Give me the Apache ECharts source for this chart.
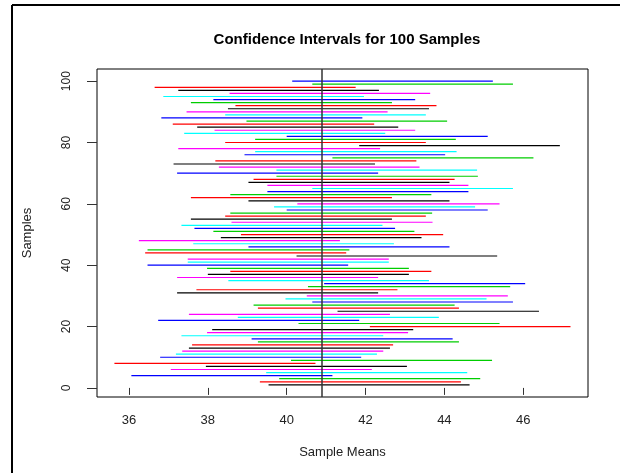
<!DOCTYPE html>
<html>
<head>
<meta charset="utf-8">
<script src="https://cdn.jsdelivr.net/npm/echarts@6/dist/echarts.min.js"></script>
<style>
  html, body { margin: 0; padding: 0; background: #fff; }
  #chart { width: 620px; height: 473px; }
</style>
</head>
<body>
<div id="chart"></div>
<script>
// lower / upper ends of the interval for samples 1..100
var lowerBounds = [
  39.54, 39.32, 39.81, 36.06, 39.48, 37.06, 37.95, 35.63, 40.11, 36.79,
  37.19, 37.35, 37.52, 37.60, 39.27, 39.11, 37.33, 37.98, 38.11, 42.11,
  40.30, 36.74, 38.76, 37.52, 41.29, 39.27, 39.16, 40.65, 39.97, 40.51,
  37.22, 37.71, 40.54, 40.95, 38.52, 37.22, 38.00, 38.57, 37.98, 36.47,
  37.49, 37.49, 40.25, 36.41, 36.47, 39.03, 37.63, 36.25, 38.33, 38.84,
  38.14, 37.66, 37.33, 38.60, 37.57, 38.44, 38.57, 40.00, 39.68, 40.27,
  39.03, 37.57, 38.57, 39.51, 40.65, 39.51, 39.03, 39.16, 39.74, 37.22,
  39.74, 38.28, 37.13, 38.19, 41.16, 38.93, 39.20, 37.25, 41.84, 38.44,
  39.20, 40.00, 37.40, 38.17, 37.73, 37.11, 38.98, 36.82, 38.44, 37.46,
  38.51, 38.70, 37.57, 38.14, 36.87, 38.55, 37.25, 36.65, 40.65, 40.14
];
var upperBounds = [
  44.64, 44.42, 44.91, 41.16, 44.58, 42.16, 43.05, 40.73, 45.21, 41.89,
  42.29, 42.45, 42.62, 42.70, 44.37, 44.21, 42.45, 43.08, 43.21, 47.20,
  45.40, 41.84, 43.86, 42.62, 46.40, 44.37, 44.26, 45.74, 45.07, 45.61,
  42.32, 42.81, 45.67, 46.05, 43.61, 42.32, 43.10, 43.67, 43.10, 41.56,
  42.59, 42.59, 45.34, 41.51, 41.59, 44.13, 42.72, 41.35, 43.42, 43.97,
  43.24, 42.75, 42.43, 43.70, 42.67, 43.53, 43.69, 45.10, 44.78, 45.40,
  44.13, 42.67, 43.67, 44.61, 45.74, 44.61, 44.13, 44.26, 44.85, 42.32,
  44.83, 43.37, 42.24, 43.29, 46.26, 44.02, 44.31, 42.37, 46.93, 43.53,
  44.29, 45.10, 42.50, 43.26, 42.83, 42.22, 44.07, 41.92, 43.53, 42.56,
  43.61, 43.80, 42.67, 43.26, 41.96, 43.64, 42.34, 41.75, 45.74, 45.23
];
var trueMean = 40.9;
var lineColors = ['#000000', '#FF0000', '#00CD00', '#0000FF', '#00FFFF', '#FF00FF'];
var xTicks = [36, 38, 40, 42, 44, 46];
var yTicks = [0, 20, 40, 60, 80, 100];

// [lower, upper, sample number]
var intervals = lowerBounds.map(function (lo, i) {
  return [lo, upperBounds[i], i + 1];
});

var chart = echarts.init(document.getElementById('chart'));
chart.setOption({
  animation: false,
  textStyle: { fontFamily: 'Liberation Sans, Arial, sans-serif' },
  title: {
    text: 'Confidence Intervals for 100 Samples',
    left: 342,
    textAlign: 'center',
    top: 27,
    textStyle: { fontSize: 15, fontWeight: 'bold', color: '#000' }
  },
  grid: {
    left: 97, right: 32, top: 69, bottom: 76,
    show: true, borderColor: '#000', borderWidth: 1, backgroundColor: 'transparent'
  },
  xAxis: {
    type: 'value',
    min: 35.188, max: 47.644,
    name: 'Sample Means',
    nameLocation: 'middle',
    nameGap: 49,
    nameTextStyle: { fontSize: 13, color: '#222' },
    axisLine: { show: false },
    splitLine: { show: false },
    axisTick: { show: true, inside: false, length: 7, customValues: xTicks, lineStyle: { color: '#333' } },
    axisLabel: { customValues: xTicks, margin: 17, fontSize: 13, color: '#222' }
  },
  yAxis: {
    type: 'value',
    min: -2.96, max: 103.96,
    name: 'Samples',
    nameLocation: 'middle',
    nameGap: 63,
    nameTextStyle: { fontSize: 13, color: '#222' },
    axisLine: { show: false },
    splitLine: { show: false },
    axisTick: { show: true, inside: false, length: 10, customValues: yTicks, lineStyle: { color: '#333' } },
    axisLabel: { customValues: yTicks, rotate: 90, margin: 24, fontSize: 12, color: '#222' }
  },
  graphic: [
    { type: 'line', shape: { x1: 12, y1: 5, x2: 620, y2: 5 }, style: { stroke: '#000', lineWidth: 2 } },
    { type: 'line', shape: { x1: 12, y1: 5, x2: 12, y2: 473 }, style: { stroke: '#000', lineWidth: 2 } }
  ],
  series: [
    {
      type: 'custom',
      silent: true,
      encode: { x: [0, 1], y: 2 },
      data: intervals,
      renderItem: function (params, api) {
        var a = api.coord([api.value(0), api.value(2)]);
        var b = api.coord([api.value(1), api.value(2)]);
        var n = api.value(2);
        return {
          type: 'line',
          shape: { x1: a[0], y1: a[1], x2: b[0], y2: b[1] },
          style: { stroke: lineColors[(n - 1) % lineColors.length], lineWidth: 1.2 }
        };
      },
      markLine: {
        silent: true,
        symbol: 'none',
        label: { show: false },
        lineStyle: { color: '#333', width: 1.5, type: 'solid' },
        data: [{ xAxis: trueMean }]
      }
    }
  ]
});
</script>
</body>
</html>
